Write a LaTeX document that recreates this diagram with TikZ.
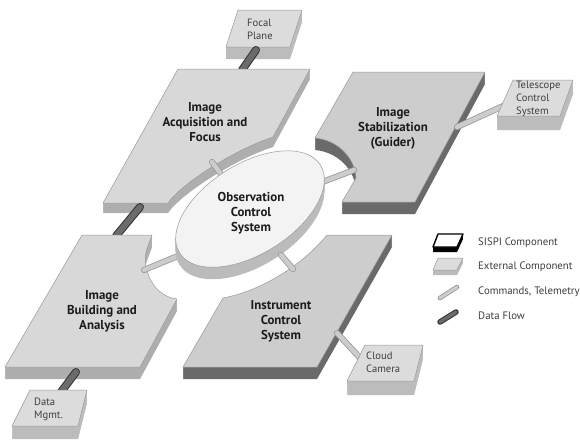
\documentclass[tikz,border=0pt]{standalone}
\usepackage{fontspec}
\setmainfont{PT Sans}

\definecolor{sisptop}{HTML}{D8D8D8}
\definecolor{sispside}{HTML}{AEAEAE}
\definecolor{darktop}{HTML}{CDCDCD}
\definecolor{darkside}{HTML}{6A6A6A}
\definecolor{exttop}{HTML}{DCDCDC}
\definecolor{extside}{HTML}{BCBCBC}
\definecolor{ocstop}{HTML}{F3F3F3}
\definecolor{ocsside}{HTML}{BBBBBB}
\definecolor{edgegray}{HTML}{9A9A9A}
\definecolor{txt}{HTML}{1C1C1C}

\tikzset{
  face/.style={draw=edgegray, line width=0.5pt, line join=round},
  slabtext/.style={font=\bfseries\fontsize{12.9}{15}\selectfont, text=txt, align=center},
  boxtext/.style={font=\fontsize{10.6}{12.8}\selectfont, text=txt!85, align=left, inner sep=0pt, anchor=west},
  legtext/.style={font=\fontsize{10.8}{12}\selectfont, text=txt!85, inner sep=0pt, anchor=west},
  datarod/.style={line cap=round, line width=1pt, draw=black!80, double=black!58, double distance=6pt},
  cmdrod/.style={line cap=round, line width=0.8pt, draw=black!40, double=black!20, double distance=4.5pt}
}

% side faces: the top face pushed down one point at a time
\newcommand{\extrude}[3]{\foreach \dd in {1,...,#2}{\fill[#1, yshift=-\dd pt] #3;}}
\newcommand{\slab}[4]{\extrude{#2}{#3}{#4}\filldraw[face, fill=#1] #4;}

\begin{document}
\begin{tikzpicture}[x=1pt, y=-1pt]
  \useasboundingbox (0,0) rectangle (580,440);
  \fill[white] (0,0) rectangle (580,440);

  % rod end points
  \coordinate (fp-out) at (256,50);
  \coordinate (acq-in) at (242,70);
  \coordinate (acq-out) at (140,207);
  \coordinate (bld-in) at (116,236);
  \coordinate (bld-out) at (76,372);
  \coordinate (dm-in) at (61,392);
  \coordinate (stb-out) at (457,127);
  \coordinate (tcs-in) at (512,102);
  \coordinate (ics-out) at (337,333);
  \coordinate (cc-in) at (362,360);
  \coordinate (ocs-acq) at (224,178);
  \coordinate (acq-ocs) at (212,162);
  \coordinate (ocs-stb) at (312,186);
  \coordinate (stb-ocs) at (354,170);
  \coordinate (ocs-bld) at (185,253);
  \coordinate (bld-ocs) at (144,270);
  \coordinate (ocs-ics) at (281,255);
  \coordinate (ics-ocs) at (293,269);

  % Focal Plane
  \slab{exttop}{extside}{12}{(238,10) -- (302,10) -- (290,47) -- (226,47) -- cycle}
  \node[boxtext] (focal) at (247,29) {Focal\\Plane};
  \draw[datarod] (fp-out) -- (acq-in);

  % Image Acquisition and Focus
  \slab{sisptop}{sispside}{10}{(178,69) -- (310,69) -- (273,137)
    .. controls (233,150) and (180,185) .. (168,203) -- (103,203) -- cycle}
  \node[slabtext] (acq) at (205,122) {Image\\Acquisition and\\Focus};
  \draw[datarod] (acq-out) -- (bld-in);

  % Image Building and Analysis
  \slab{sisptop}{sispside}{12}{(82,235) -- (152,235) -- (148,246)
    .. controls (140,262) and (150,296) .. (177,299) -- (140,367) -- (5,367) -- cycle}
  \node[slabtext] (build) at (102,311) {Image\\Building and\\Analysis};
  \draw[datarod] (bld-out) -- (dm-in);

  % Data Mgmt.
  \slab{exttop}{extside}{13}{(30,390) -- (87,390) -- (78,426) -- (12,426) -- cycle}
  \node[boxtext] (data) at (34,409) {Data\\Mgmt.};

  % Image Stabilization (Guider)
  \slab{darktop}{darkside}{12}{(353,72) -- (485,72) -- (415,202) -- (342,202) -- (356,178)
    .. controls (355,158) and (338,140) .. (315,138) -- cycle}
  \node[slabtext] (stab) at (393,128) {Image\\Stabilization\\(Guider)};
  \draw[cmdrod] (stb-out) -- (tcs-in);

  % Telescope Control System
  \slab{exttop}{extside}{14}{(513,80) -- (573,80) -- (560,116) -- (497,116) -- cycle}
  \node[boxtext] (tcs) at (516,99) {Telescope\\Control\\System};

  % Instrument Control System
  \slab{darktop}{darkside}{12}{(327,235) -- (392,235) -- (317,367) -- (183,367) -- (223,298)
    .. controls (265,290) and (305,262) .. (327,235) -- cycle}
  \node[slabtext] (ics) at (281,321) {Instrument\\Control\\System};
  \draw[cmdrod] (ics-out) -- (cc-in);

  % Cloud Camera
  \slab{exttop}{extside}{14}{(365,345) -- (423,345) -- (414,381) -- (347,381) -- cycle}
  \node[boxtext] (cloud) at (366,362) {Cloud\\Camera};

  % links into the centre
  \draw[cmdrod] (acq-ocs) -- (ocs-acq);
  \draw[cmdrod] (stb-ocs) -- (ocs-stb);
  \draw[cmdrod] (bld-ocs) -- (ocs-bld);

  % Observation Control System
  \slab{ocstop}{ocsside}{12}{(250,209) ellipse [x radius=83, y radius=45, rotate=32]}
  \node[slabtext] (ocs) at (251,213) {Observation\\Control\\System};
  \draw[cmdrod] (ocs-ics) -- (ics-ocs);

  % Legend
  \extrude{black}{5}{(438,234) -- (463,234) -- (457,247) -- (433,247) -- cycle}
  \filldraw[fill=white, draw=black, line width=1.4pt, line join=round]
    (438,234) -- (463,234) -- (457,247) -- (433,247) -- cycle;
  \slab{exttop}{extside}{5}{(438,258) -- (463,258) -- (457,270) -- (433,270) -- cycle}
  \coordinate (lg-c1) at (440,298);
  \coordinate (lg-c2) at (457,287);
  \coordinate (lg-d1) at (440,322);
  \coordinate (lg-d2) at (456,312);
  \draw[cmdrod, double distance=3pt] (lg-c1) -- (lg-c2);
  \draw[datarod, double distance=3.5pt] (lg-d1) -- (lg-d2);
  \node[legtext] (sispi) at (478,243) {SISPI Component};
  \node[legtext] (extern) at (478,267) {External Component};
  \node[legtext] (cmds) at (478,292) {Commands, Telemetry};
  \node[legtext] (dflow) at (478,316) {Data Flow};
\end{tikzpicture}
\end{document}
